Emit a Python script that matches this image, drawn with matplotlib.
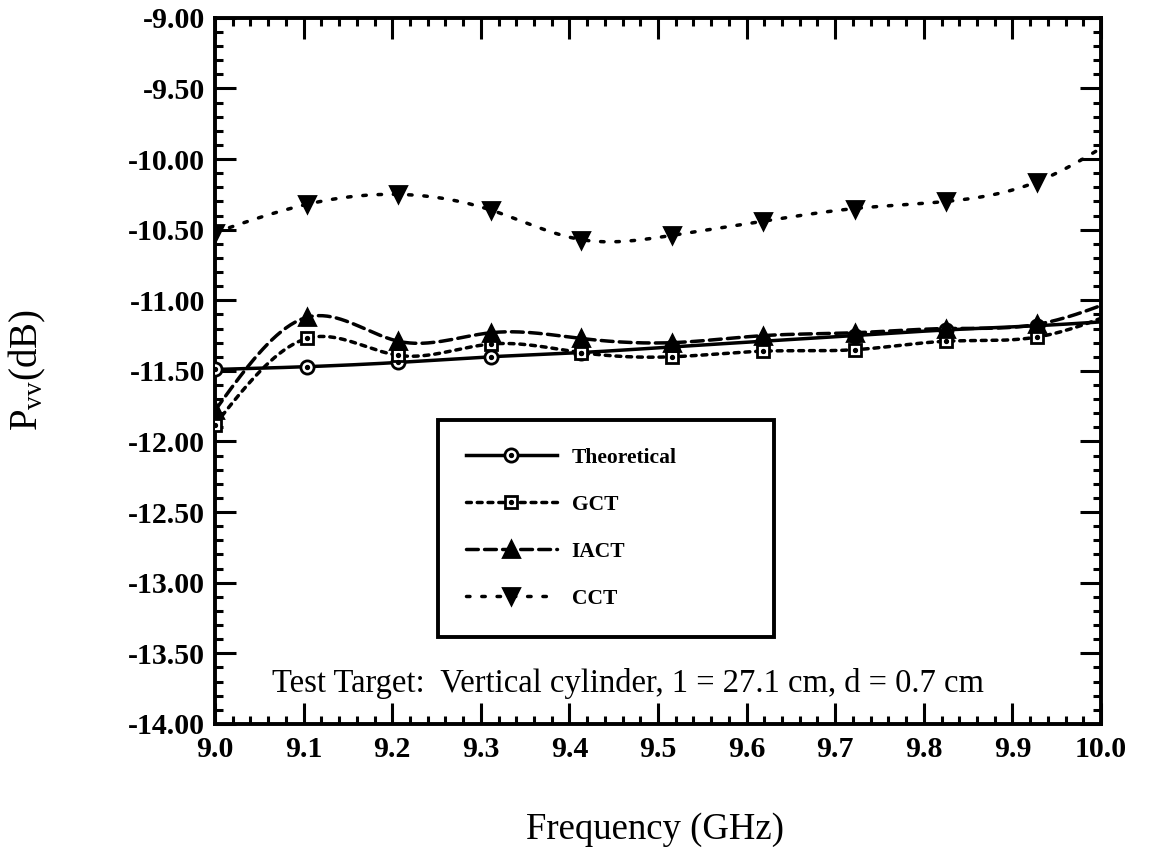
import numpy as np
import matplotlib
matplotlib.use("Agg")
import matplotlib.pyplot as plt
from matplotlib.lines import Line2D
from matplotlib.ticker import MultipleLocator, FormatStrFormatter

plt.rcParams['font.family'] = ['Liberation Serif', 'DejaVu Serif']
plt.rcParams['mathtext.fontset'] = 'custom'
plt.rcParams['mathtext.rm'] = 'Liberation Serif'
plt.rcParams['mathtext.it'] = 'Liberation Serif:italic'
plt.rcParams['axes.unicode_minus'] = False

# ---- data ----
freq = [9.000, 9.104, 9.207, 9.311, 9.413, 9.516, 9.619, 9.722, 9.825, 9.928, 10.031]
theoretical = [-11.49, -11.47, -11.44, -11.40, -11.37, -11.33, -11.29, -11.25, -11.21, -11.18, -11.14]
gct = [-11.88, -11.27, -11.39, -11.31, -11.37, -11.40, -11.36, -11.35, -11.29, -11.26, -11.05]
iact = [-11.78, -11.12, -11.29, -11.23, -11.27, -11.30, -11.25, -11.23, -11.20, -11.17, -10.96]
cct = [-10.52, -10.32, -10.25, -10.36, -10.57, -10.54, -10.44, -10.35, -10.30, -10.16, -9.80]

series_names = ["Theoretical", "GCT", "IACT", "CCT"]
x_ticks = [9.0, 9.1, 9.2, 9.3, 9.4, 9.5, 9.6, 9.7, 9.8, 9.9, 10.0]
y_ticks = [-14.0, -13.5, -13.0, -12.5, -12.0, -11.5, -11.0, -10.5, -10.0, -9.5, -9.0]
note = "Test Target:  Vertical cylinder, 1 = 27.1 cm, d = 0.7 cm"


def smooth(x, y, n=400):
    """Natural cubic spline drawing path through the data points."""
    x = np.asarray(x, float)
    y = np.asarray(y, float)
    m = len(x)
    h = np.diff(x)
    A = np.zeros((m, m))
    r = np.zeros(m)
    A[0, 0] = A[-1, -1] = 1.0
    for i in range(1, m - 1):
        A[i, i - 1] = h[i - 1]
        A[i, i] = 2 * (h[i - 1] + h[i])
        A[i, i + 1] = h[i]
        r[i] = 6 * ((y[i + 1] - y[i]) / h[i] - (y[i] - y[i - 1]) / h[i - 1])
    M = np.linalg.solve(A, r)
    xs = np.linspace(x[0], x[-1], n)
    idx = np.clip(np.searchsorted(x, xs) - 1, 0, m - 2)
    x0, x1 = x[idx], x[idx + 1]
    hh = x1 - x0
    a = (x1 - xs) / hh
    b = (xs - x0) / hh
    ys = a * y[idx] + b * y[idx + 1] + ((a ** 3 - a) * M[idx] + (b ** 3 - b) * M[idx + 1]) * hh ** 2 / 6
    return xs, ys


fig = plt.figure(figsize=(11.53, 8.68), dpi=100)
ax = fig.add_axes([0.1865, 0.166, 0.7684, 0.8134])

LW = 2.5
styles = [
    dict(ls='-', dashes=None, marker='o', ms=9.5, mfc='white', dot=True),
    dict(ls='--', dashes=(1.4, 1.7), marker='s', ms=9.0, mfc='white', dot=True),
    dict(ls='--', dashes=(3.4, 1.8), marker='^', ms=11, mfc='black', dot=False),
    dict(ls='--', dashes=(1.0, 3.4), marker='v', ms=12, mfc='black', dot=False),
]
data = [theoretical, gct, iact, cct]

handles = []
for name, vals, st in zip(series_names, data, styles):
    xs, ys = smooth(freq, vals)
    line, = ax.plot(xs, ys, color='black', lw=LW, ls=st['ls'], zorder=2,
                    solid_capstyle='round', dash_capstyle='round')
    if st['dashes'] is not None:
        line.set_dashes(st['dashes'])
    ax.plot(freq, vals, ls='none', marker=st['marker'], ms=st['ms'], mfc=st['mfc'],
            mec='black', mew=2.0, zorder=3)
    if st['dot']:
        ax.plot(freq, vals, ls='none', marker='o', ms=2.8, mfc='black', mec='black', zorder=4)
    h = Line2D([], [], color='black', lw=LW, ls=st['ls'], marker=st['marker'], ms=st['ms'],
               mfc=st['mfc'], mec='black', mew=2.0, dash_capstyle='round')
    if st['dashes'] is not None:
        h.set_dashes(st['dashes'])
    if st['dot']:
        hd = Line2D([], [], ls='none', marker='o', ms=2.8, mfc='black', mec='black')
        handles.append((h, hd))
    else:
        handles.append(h)

ax.set_xlim(9.0, 10.0)
ax.set_ylim(-14.0, -9.0)
ax.set_xticks(x_ticks)
ax.set_yticks(y_ticks)
ax.xaxis.set_major_formatter(FormatStrFormatter('%.1f'))
ax.yaxis.set_major_formatter(FormatStrFormatter('%.2f'))
ax.xaxis.set_minor_locator(MultipleLocator(0.02))
ax.yaxis.set_minor_locator(MultipleLocator(0.1))
ax.tick_params(which='both', direction='in', top=True, right=True, width=2.2, color='black')
ax.tick_params(which='major', length=15, pad=7)
ax.tick_params(which='minor', length=6)
ax.tick_params(axis='x', which='major', pad=9)
for lab in ax.get_xticklabels() + ax.get_yticklabels():
    lab.set_fontsize(21.5)
    lab.set_fontweight('bold')
for sp in ax.spines.values():
    sp.set_linewidth(2.8)

ax.set_xlabel("Frequency (GHz)", fontsize=26.5)
ax.xaxis.set_label_coords(0.497, -0.150)
ax.xaxis.label.set_va('center')
ax.set_ylabel(r"P$_{\mathrm{vv}}$(dB)", fontsize=28)
ax.yaxis.set_label_coords(-0.212, 0.501)
ax.yaxis.label.set_va('center')

ax.text(0.064, 0.057, note, transform=ax.transAxes, fontsize=23.5, va='center', ha='left')

leg = ax.legend(handles, series_names, loc='upper left',
                bbox_to_anchor=(0.252, 0.127, 0.379, 0.304), mode='expand',
                borderaxespad=0, prop=dict(family='Liberation Serif', weight='bold', size=15.5),
                handlelength=4.2, handletextpad=0.7, labelspacing=1.25, borderpad=1.3,
                fancybox=False, framealpha=1, edgecolor='black', numpoints=1)
leg.get_frame().set_linewidth(2.8)

fig.savefig("out.png", dpi=100, facecolor='white')
